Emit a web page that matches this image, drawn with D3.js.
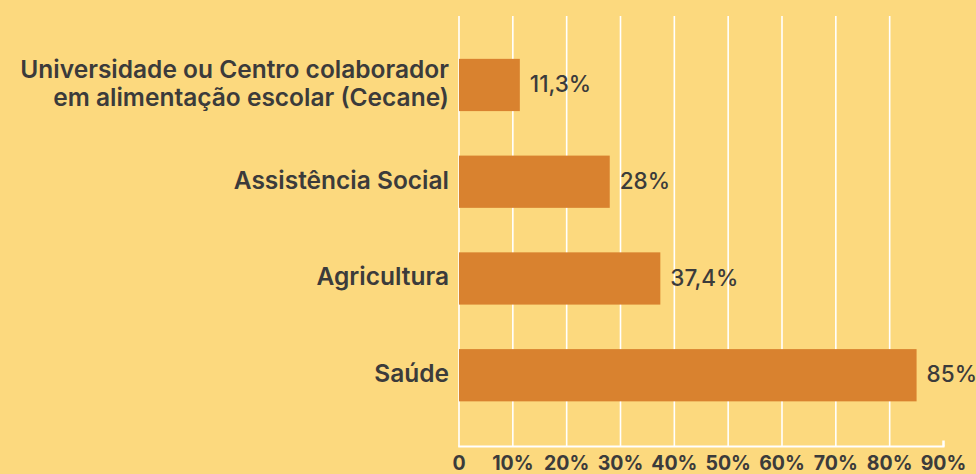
<!DOCTYPE html>
<html>
<head>
<meta charset="utf-8">
<script src="https://cdn.jsdelivr.net/npm/d3@7"></script>
<style>
  html, body { margin: 0; padding: 0; background: #FCD97E; }
  svg { display: block; }
  text { font-family: Inter, "Open Sans", sans-serif; fill: #3B3B3B; }
</style>
</head>
<body>
<svg id="chart" width="976" height="474"></svg>
<script>
// Categories (top to bottom), with line breaks for long labels
const categories = [
  "Universidade ou Centro colaborador\nem alimentação escolar (Cecane)",
  "Assistência Social",
  "Agricultura",
  "Saúde"
];
const values = [11.3, 28, 37.4, 85];
const valueLabels = ["11,3%", "28%", "37,4%", "85%"];
const tickValues = [0, 10, 20, 30, 40, 50, 60, 70, 80, 90];
const tickLabels = ["0", "10%", "20%", "30%", "40%", "50%", "60%", "70%", "80%", "90%"];
const gridValues = [0, 10, 20, 30, 40, 50, 60, 70, 80];

const svg = d3.select("#chart");
const W = 976, H = 474;
const left = 459, right = 943.5;
const gridTop = 16, axisY = 446.5;

const x = d3.scaleLinear().domain([0, 90]).range([left, right]);
const y = d3.scaleBand()
  .domain(categories)
  .range([36.6, 423.6])
  .paddingInner(0.46)
  .paddingOuter(0.23);

// Background
svg.append("rect").attr("width", W).attr("height", H).attr("fill", "#FCD97E");

// Vertical grid lines
svg.append("g").selectAll("line")
  .data(gridValues)
  .join("line")
  .attr("x1", d => x(d)).attr("x2", d => x(d))
  .attr("y1", gridTop).attr("y2", axisY)
  .attr("stroke", "#FFFFFF")
  .attr("stroke-width", 1.6);

// Bottom axis line with end tick
const axis = svg.append("g");
axis.append("line")
  .attr("x1", x(0) - 0.8).attr("x2", x(90) + 1)
  .attr("y1", axisY).attr("y2", axisY)
  .attr("stroke", "#FFFFFF").attr("stroke-width", 2);
axis.append("line")
  .attr("x1", x(90)).attr("x2", x(90))
  .attr("y1", axisY - 6).attr("y2", axisY)
  .attr("stroke", "#FFFFFF").attr("stroke-width", 2.5);

// Tick labels
axis.selectAll("text")
  .data(tickValues)
  .join("text")
  .attr("x", d => x(d))
  .attr("y", 470)
  .attr("text-anchor", "middle")
  .attr("font-size", 19.5)
  .attr("font-weight", 700)
  .text((d, i) => tickLabels[i]);

// Bars
svg.append("g").selectAll("rect")
  .data(values)
  .join("rect")
  .attr("x", x(0))
  .attr("y", (d, i) => y(categories[i]))
  .attr("width", d => x(d) - x(0))
  .attr("height", y.bandwidth())
  .attr("fill", "#D9822F");

// Value labels
svg.append("g").selectAll("text")
  .data(values)
  .join("text")
  .attr("x", d => x(d) + 10)
  .attr("y", (d, i) => y(categories[i]) + y.bandwidth() / 2 - 1)
  .attr("dy", "0.36em")
  .attr("font-size", 22.5)
  .attr("font-weight", 500)
  .text((d, i) => valueLabels[i]);

// Category labels
const cat = svg.append("g").selectAll("text")
  .data(categories)
  .join("text")
  .attr("text-anchor", "end")
  .attr("font-size", 24.5)
  .attr("font-weight", 600)
  .attr("transform", d => `translate(449,${y(d) + y.bandwidth() / 2 - 2})`);

cat.each(function (d) {
  const lines = d.split("\n");
  const t = d3.select(this);
  const lh = 28;
  lines.forEach((ln, j) => {
    t.append("tspan")
      .attr("x", 0)
      .attr("y", (j - (lines.length - 1) / 2) * lh)
      .attr("dy", "0.36em")
      .text(ln);
  });
});
</script>
</body>
</html>
